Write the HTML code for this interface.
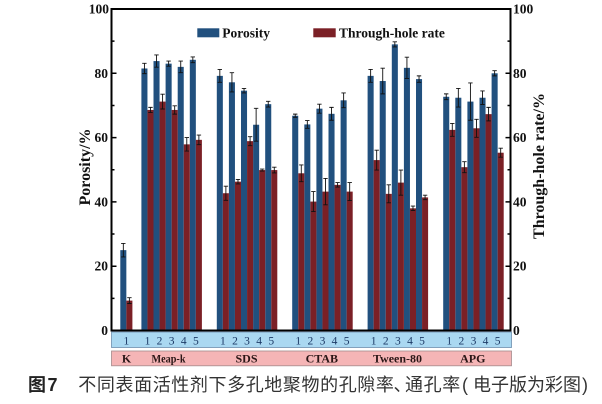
<!DOCTYPE html>
<html><head><meta charset="utf-8"><style>
html,body{margin:0;padding:0;background:#fff;}
svg{display:block;}
.t{font-family:"Liberation Serif",serif;font-weight:bold;fill:#111;}
.n{font-family:"Liberation Serif",serif;fill:#1c3a66;font-size:11.5px;}
.cap{font-family:"Liberation Sans","Noto Sans CJK SC",sans-serif;fill:#333;font-size:18px;}
</style></head><body>
<svg width="602" height="404" viewBox="0 0 602 404" xmlns="http://www.w3.org/2000/svg">
<rect width="602" height="404" fill="#fff"/>
<g fill="#21507e">
<rect x="120.3" y="250.13" width="6.05" height="80.37"/>
<rect x="141.4" y="68.48" width="6.05" height="262.02"/>
<rect x="153.5" y="61.08" width="6.05" height="269.42"/>
<rect x="165.6" y="63.65" width="6.05" height="266.85"/>
<rect x="177.7" y="66.87" width="6.05" height="263.63"/>
<rect x="189.8" y="59.80" width="6.05" height="270.70"/>
<rect x="216.8" y="75.87" width="6.05" height="254.63"/>
<rect x="228.9" y="82.30" width="6.05" height="248.20"/>
<rect x="241.0" y="90.66" width="6.05" height="239.84"/>
<rect x="253.1" y="124.74" width="6.05" height="205.76"/>
<rect x="265.2" y="104.16" width="6.05" height="226.34"/>
<rect x="292.2" y="115.74" width="6.05" height="214.76"/>
<rect x="304.3" y="124.42" width="6.05" height="206.08"/>
<rect x="316.4" y="108.66" width="6.05" height="221.84"/>
<rect x="328.5" y="113.81" width="6.05" height="216.69"/>
<rect x="340.6" y="100.31" width="6.05" height="230.19"/>
<rect x="367.6" y="75.87" width="6.05" height="254.63"/>
<rect x="379.7" y="81.02" width="6.05" height="249.48"/>
<rect x="391.8" y="44.37" width="6.05" height="286.13"/>
<rect x="403.9" y="67.83" width="6.05" height="262.67"/>
<rect x="416.0" y="79.09" width="6.05" height="251.41"/>
<rect x="443.2" y="96.77" width="6.05" height="233.73"/>
<rect x="455.3" y="97.73" width="6.05" height="232.77"/>
<rect x="467.4" y="101.59" width="6.05" height="228.91"/>
<rect x="479.5" y="97.73" width="6.05" height="232.77"/>
<rect x="491.6" y="73.30" width="6.05" height="257.20"/>
</g>
<g fill="#7b2026">
<rect x="126.35" y="300.60" width="6.05" height="29.90"/>
<rect x="147.45" y="109.95" width="6.05" height="220.55"/>
<rect x="159.55" y="101.59" width="6.05" height="228.91"/>
<rect x="171.65" y="109.95" width="6.05" height="220.55"/>
<rect x="183.75" y="144.35" width="6.05" height="186.15"/>
<rect x="195.85" y="139.85" width="6.05" height="190.65"/>
<rect x="222.85" y="193.22" width="6.05" height="137.28"/>
<rect x="234.95" y="181.65" width="6.05" height="148.85"/>
<rect x="247.05" y="141.14" width="6.05" height="189.36"/>
<rect x="259.15" y="170.07" width="6.05" height="160.43"/>
<rect x="271.25" y="170.07" width="6.05" height="160.43"/>
<rect x="298.25" y="173.29" width="6.05" height="157.21"/>
<rect x="310.35" y="201.58" width="6.05" height="128.92"/>
<rect x="322.45" y="191.61" width="6.05" height="138.89"/>
<rect x="334.55" y="184.86" width="6.05" height="145.64"/>
<rect x="346.65" y="191.61" width="6.05" height="138.89"/>
<rect x="373.65" y="160.10" width="6.05" height="170.40"/>
<rect x="385.75" y="193.86" width="6.05" height="136.64"/>
<rect x="397.85" y="182.61" width="6.05" height="147.89"/>
<rect x="409.95" y="208.33" width="6.05" height="122.17"/>
<rect x="422.05" y="197.40" width="6.05" height="133.10"/>
<rect x="449.25" y="129.88" width="6.05" height="200.62"/>
<rect x="461.35" y="167.18" width="6.05" height="163.32"/>
<rect x="473.45" y="128.28" width="6.05" height="202.22"/>
<rect x="485.55" y="114.13" width="6.05" height="216.37"/>
<rect x="497.65" y="152.71" width="6.05" height="177.79"/>
</g>
<path fill="none" stroke="#111" stroke-width="0.9" d="M123.33 243.4V256.9M121.1 243.4h4.4M121.1 256.9h4.4 M129.38 297.7V303.5M127.2 297.7h4.4M127.2 303.5h4.4 M144.43 63.33V73.62M142.2 63.33h4.4M142.2 73.62h4.4 M156.53 54.97V67.19M154.3 54.97h4.4M154.3 67.19h4.4 M168.63 61.08V66.23M166.4 61.08h4.4M166.4 66.23h4.4 M180.73 61.08V72.66M178.5 61.08h4.4M178.5 72.66h4.4 M192.83 56.90V62.69M190.6 56.90h4.4M190.6 62.69h4.4 M150.48 107.38V112.52M148.3 107.38h4.4M148.3 112.52h4.4 M162.58 94.20V108.99M160.4 94.20h4.4M160.4 108.99h4.4 M174.68 105.77V114.13M172.5 105.77h4.4M172.5 114.13h4.4 M186.78 137.6V151.1M184.6 137.6h4.4M184.6 151.1h4.4 M198.88 135.03V144.67M196.7 135.03h4.4M196.7 144.67h4.4 M219.83 69.44V82.30M217.6 69.44h4.4M217.6 82.30h4.4 M231.93 72.66V91.95M229.7 72.66h4.4M229.7 91.95h4.4 M244.03 88.41V92.91M241.8 88.41h4.4M241.8 92.91h4.4 M256.13 108.34V141.14M253.9 108.34h4.4M253.9 141.14h4.4 M268.23 101.27V107.06M266.0 101.27h4.4M266.0 107.06h4.4 M225.88 186.15V200.29M223.7 186.15h4.4M223.7 200.29h4.4 M237.98 179.40V183.90M235.8 179.40h4.4M235.8 183.90h4.4 M250.08 136.64V145.64M247.9 136.64h4.4M247.9 145.64h4.4 M262.18 169.11V171.04M260.0 169.11h4.4M260.0 171.04h4.4 M274.28 167.18V172.97M272.1 167.18h4.4M272.1 172.97h4.4 M295.23 114.13V117.35M293.0 114.13h4.4M293.0 117.35h4.4 M307.33 120.56V128.28M305.1 120.56h4.4M305.1 128.28h4.4 M319.43 104.16V113.17M317.2 104.16h4.4M317.2 113.17h4.4 M331.53 107.38V120.24M329.3 107.38h4.4M329.3 120.24h4.4 M343.63 92.91V107.70M341.4 92.91h4.4M341.4 107.70h4.4 M301.28 164.93V181.65M299.1 164.93h4.4M299.1 181.65h4.4 M313.38 191.61V211.55M311.2 191.61h4.4M311.2 211.55h4.4 M325.48 178.43V204.79M323.3 178.43h4.4M323.3 204.79h4.4 M337.58 182.61V187.11M335.4 182.61h4.4M335.4 187.11h4.4 M349.68 182.61V200.61M347.5 182.61h4.4M347.5 200.61h4.4 M370.63 69.44V82.30M368.4 69.44h4.4M368.4 82.30h4.4 M382.73 68.16V93.88M380.5 68.16h4.4M380.5 93.88h4.4 M394.83 41.79V46.94M392.6 41.79h4.4M392.6 46.94h4.4 M406.93 57.23V78.44M404.7 57.23h4.4M404.7 78.44h4.4 M419.03 75.87V82.30M416.8 75.87h4.4M416.8 82.30h4.4 M376.68 150.14V170.07M374.5 150.14h4.4M374.5 170.07h4.4 M388.78 184.86V202.86M386.6 184.86h4.4M386.6 202.86h4.4 M400.88 170.07V195.15M398.7 170.07h4.4M398.7 195.15h4.4 M412.98 206.08V210.58M410.8 206.08h4.4M410.8 210.58h4.4 M425.08 195.15V199.65M422.9 195.15h4.4M422.9 199.65h4.4 M446.23 93.88V99.66M444.0 93.88h4.4M444.0 99.66h4.4 M458.33 88.41V107.06M456.1 88.41h4.4M456.1 107.06h4.4 M470.43 82.95V120.24M468.2 82.95h4.4M468.2 120.24h4.4 M482.53 90.98V104.49M480.3 90.98h4.4M480.3 104.49h4.4 M494.63 70.73V75.87M492.4 70.73h4.4M492.4 75.87h4.4 M452.28 123.45V136.31M450.1 123.45h4.4M450.1 136.31h4.4 M464.38 161.71V172.65M462.2 161.71h4.4M462.2 172.65h4.4 M476.48 119.27V137.28M474.3 119.27h4.4M474.3 137.28h4.4 M488.58 107.38V120.88M486.4 107.38h4.4M486.4 120.88h4.4 M500.68 148.21V157.21M498.5 148.21h4.4M498.5 157.21h4.4"/>
<rect x="111.5" y="9" width="399" height="321.5" fill="none" stroke="#000" stroke-width="2"/>
<path fill="none" stroke="#000" stroke-width="1.5" d="M111.5 266.2h5M111.5 201.9h5M111.5 137.6h5M111.5 73.3h5 M111.5 298.35h3M111.5 234.05h3M111.5 169.75h3M111.5 105.45h3M111.5 41.15h3 M510.5 266.2h-5M510.5 201.9h-5M510.5 137.6h-5M510.5 73.3h-5 M510.5 298.35h-3M510.5 234.05h-3M510.5 169.75h-3M510.5 105.45h-3M510.5 41.15h-3"/>
<g class="t" font-size="13.5" text-anchor="end">
<text x="108" y="335">0</text>
<text x="108" y="270.7">20</text>
<text x="108" y="206.4">40</text>
<text x="108" y="142.1">60</text>
<text x="108" y="77.8">80</text>
<text x="109" y="13.5">100</text>
</g>
<g class="t" font-size="13.5">
<text x="513" y="335">0</text>
<text x="513" y="270.7">20</text>
<text x="513" y="206.4">40</text>
<text x="513" y="142.1">60</text>
<text x="513" y="77.8">80</text>
<text x="513" y="13.5">100</text>
</g>
<text class="t" font-size="16" text-anchor="middle" transform="translate(90,167) rotate(-90)">Porosity/%</text>
<text class="t" font-size="16" text-anchor="middle" transform="translate(544,166) rotate(-90)">Through-hole rate/%</text>
<rect x="197.3" y="28.3" width="22" height="9" fill="#21507e"/>
<text class="t" x="222.3" y="37.6" font-size="13.5">Porosity</text>
<rect x="313.3" y="28.3" width="22.4" height="9" fill="#7b2026"/>
<text class="t" x="339" y="37.6" font-size="13.5">Through-hole rate</text>
<rect x="111.5" y="332" width="400" height="15.5" fill="#aad8f1" stroke="#6f8fae" stroke-width="0.8"/>
<rect x="111.5" y="351" width="400" height="14.8" fill="#f5b5b6" stroke="#a48a8c" stroke-width="0.8"/>
<g class="n" text-anchor="middle">
<text x="126.35" y="344.3">1</text>
<text x="147.45" y="344.3">1</text><text x="159.55" y="344.3">2</text><text x="171.65" y="344.3">3</text><text x="183.75" y="344.3">4</text><text x="195.85" y="344.3">5</text>
<text x="222.85" y="344.3">1</text><text x="234.95" y="344.3">2</text><text x="247.05" y="344.3">3</text><text x="259.15" y="344.3">4</text><text x="271.25" y="344.3">5</text>
<text x="298.25" y="344.3">1</text><text x="310.35" y="344.3">2</text><text x="322.45" y="344.3">3</text><text x="334.55" y="344.3">4</text><text x="346.65" y="344.3">5</text>
<text x="373.65" y="344.3">1</text><text x="385.75" y="344.3">2</text><text x="397.85" y="344.3">3</text><text x="409.95" y="344.3">4</text><text x="422.05" y="344.3">5</text>
<text x="449.25" y="344.3">1</text><text x="461.35" y="344.3">2</text><text x="473.45" y="344.3">3</text><text x="485.55" y="344.3">4</text><text x="497.65" y="344.3">5</text>
</g>
<g class="t" font-size="12" text-anchor="middle" style="fill:#2a1616">
<text x="126.5" y="362.6">K</text>
<text x="168.5" y="362.6" textLength="34" lengthAdjust="spacingAndGlyphs">Meap-k</text>
<text x="246.5" y="362.6">SDS</text>
<text x="321.8" y="362.6">CTAB</text>
<text x="397.5" y="362.6">Tween-80</text>
<text x="472.8" y="362.6">APG</text>
</g>
<text x="28" y="391" font-family="'Liberation Sans','Noto Sans CJK SC',sans-serif" font-weight="bold" font-size="18" fill="#222">图</text>
<text x="47.5" y="391" font-family="'Liberation Sans',sans-serif" font-weight="bold" font-size="18" fill="#222">7</text>
<text class="cap" x="78.3" y="391" letter-spacing="0.6">不同表面活性剂下多孔地聚物的孔隙率</text>
<text class="cap" x="393.5" y="391">、</text>
<text class="cap" x="405" y="391" letter-spacing="0.6">通孔率</text>
<text class="cap" x="462" y="391">(</text>
<text class="cap" x="473" y="391">电子版为彩图</text>
<text class="cap" x="582" y="391">)</text>
</svg>
</body></html>
